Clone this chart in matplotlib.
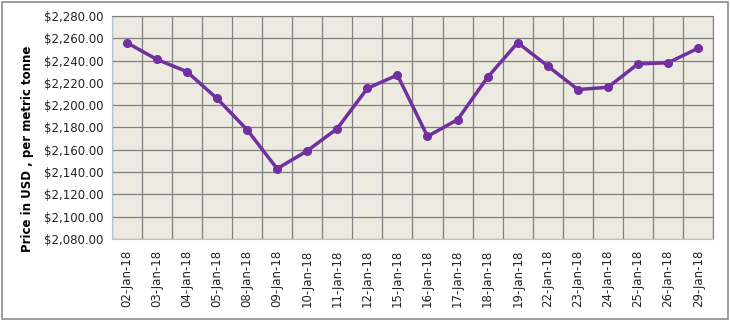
import matplotlib.pyplot as plt
from matplotlib.ticker import FuncFormatter
from matplotlib.patches import Rectangle

# Daily prices, January 2018
dates = ["02-Jan-18", "03-Jan-18", "04-Jan-18", "05-Jan-18", "08-Jan-18",
         "09-Jan-18", "10-Jan-18", "11-Jan-18", "12-Jan-18", "15-Jan-18",
         "16-Jan-18", "17-Jan-18", "18-Jan-18", "19-Jan-18", "22-Jan-18",
         "23-Jan-18", "24-Jan-18", "25-Jan-18", "26-Jan-18", "29-Jan-18"]
prices = [2256, 2241, 2230, 2206, 2178, 2143, 2159, 2179, 2215, 2227,
          2172, 2187, 2225, 2256, 2235, 2214, 2216, 2237, 2238, 2251]

fig = plt.figure(figsize=(7.3, 3.21), dpi=100)
fig.patches.append(Rectangle((0.003, 0.006), 0.994, 0.988, transform=fig.transFigure,
                             fill=False, edgecolor="#8c8c8c", linewidth=1.2))
ax = fig.add_axes([0.153, 0.2555, 0.824, 0.695])
ax.set_facecolor("#edeae1")

x = list(range(len(dates)))
ax.plot(x, prices, color="#7030a0", linewidth=2.5, marker="o", markersize=5.5, zorder=3)

ax.set_xlim(-0.5, len(dates) - 0.5)
ax.set_ylim(2080, 2280)
ax.set_yticks(range(2080, 2281, 20))
ax.yaxis.set_major_formatter(FuncFormatter(lambda v, p: "${:,.2f}".format(v)))
ax.set_xticks(x)
ax.set_xticklabels(dates, rotation=90)

# grid lines between categories
for b in range(len(dates) + 1):
    ax.axvline(b - 0.5, color="#808080", linewidth=0.9, zorder=1)
ax.yaxis.grid(True, color="#808080", linewidth=0.9, zorder=1)
ax.set_axisbelow(True)

for s in ["top", "right"]:
    ax.spines[s].set_color("#808080")
for s in ["left", "bottom"]:
    ax.spines[s].set_color("#b8c3d3")
ax.tick_params(length=0, labelsize=8.5, pad=6, colors="#222222")
ax.tick_params(axis="x", pad=8)

fig.text(0.038, 0.535, "Price in USD , per metric tonne", rotation=90, ha="center",
         va="center", fontsize=8.5, fontweight="bold")

fig.savefig("out.png", dpi=100)
